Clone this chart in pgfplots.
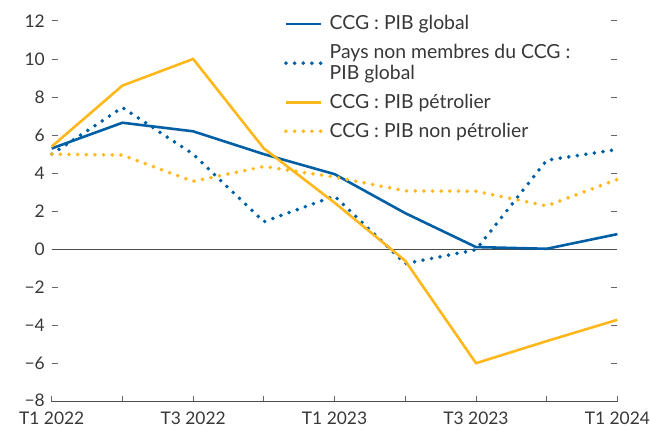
\documentclass[border=0pt]{standalone}
\usepackage{fontspec}
\setmainfont{Lato}
\usepackage{pgfplots}
\pgfplotsset{compat=1.18}
\definecolor{ccgblue}{RGB}{0,94,164}
\definecolor{ccgyellow}{RGB}{255,183,27}
\definecolor{txt}{RGB}{55,55,55}
\begin{document}
\fontsize{17.5bp}{20bp}\selectfont
\begin{tikzpicture}
\begin{axis}[
  scale only axis,
  width=569bp, height=383bp,
  xmin=0, xmax=8, ymin=-8, ymax=12,
  clip=false,
  axis line style={draw=none},
  xtick={0,...,8},
  xticklabels={T1 2022,,T3 2022,,T1 2023,,T3 2023,,T1 2024},
  xtick pos=bottom,
  ytick={-8,-6,...,12},
  yticklabels={\raisebox{2bp}{−8},−6,−4,−2,0,2,4,6,8,10,12},
  ytick pos=both,
  yticklabel pos=left,
  tick align=inside,
  major tick length=6bp,
  tick style={color=black!60, line width=0.8pt},
  ticklabel style={font=\fontsize{17.5bp}{20bp}\selectfont, text=txt},
  xticklabel style={yshift=-4bp, inner xsep=0pt},
  yticklabel style={xshift=-1bp},
  extra y ticks={-8,0},
  extra y tick labels={},
  extra y tick style={grid=major, major grid style={draw=black!70, line width=0.9pt}, ytick pos=left, major tick length=0pt},
  legend style={at={(rel axis cs:0.405,1.025)}, anchor=north west, draw=none, fill=none,
    font=\fontsize{19.5bp}{21bp}\selectfont, text=txt, row sep=8bp, column sep=5bp,
    cells={anchor=west, align=left}},
  legend image code/.code={\draw[#1] (0bp,0bp) -- (35bp,0bp);},
  legend cell align=left,
]
\addplot[ccgblue, line width=2.6bp] coordinates {
(0,5.3) (1,6.65) (2,6.2) (3,5.0) (4,3.95) (5,1.9) (6,0.12) (7,0.03) (8,0.8)};
\addlegendentry{CCG : PIB global}
\addplot[ccgblue, line width=4bp, line cap=round, dash pattern=on 0bp off 8.7bp] coordinates {
(0,5.0) (1,7.45) (2,5.0) (3,1.45) (4,2.8) (5,-0.75) (6,-0.02) (7,4.68) (8,5.25)};
\addlegendentry{Pays non membres du CCG :\\PIB global}
\addplot[ccgyellow, line width=2.6bp] coordinates {
(0,5.4) (1,8.6) (2,10.0) (3,5.3) (4,2.45) (5,-0.6) (6,-5.98) (7,-4.82) (8,-3.7)};
\addlegendentry{CCG : PIB pétrolier}
\addplot[ccgyellow, line width=4bp, line cap=round, dash pattern=on 0bp off 8.7bp] coordinates {
(0,5.0) (1,4.95) (2,3.57) (3,4.35) (4,3.8) (5,3.07) (6,3.05) (7,2.28) (8,3.68)};
\addlegendentry{CCG : PIB non pétrolier}
\end{axis}
\path (-52bp,-29bp) rectangle (598bp,404bp);
\end{tikzpicture}
\end{document}
